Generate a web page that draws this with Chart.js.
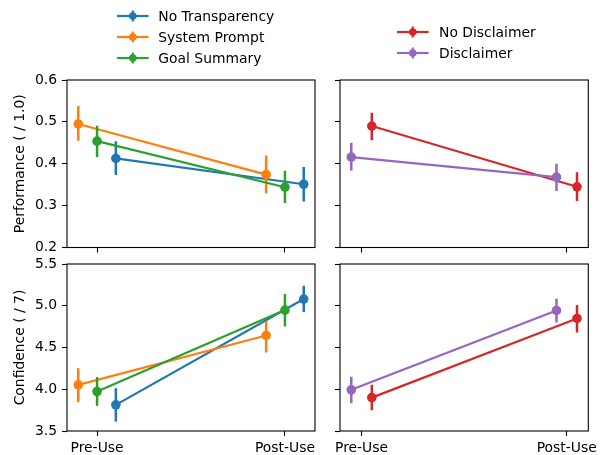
<!DOCTYPE html>
<html><head><meta charset="utf-8">
<script src="https://cdn.jsdelivr.net/npm/chart.js@4.4.1/dist/chart.umd.min.js"></script>
<style>
html,body{margin:0;padding:0;background:#fff;}
#wrap{position:relative;width:602px;height:455px;overflow:hidden;background:#fff;}
canvas{position:absolute;left:0;top:0;}
.leg{position:absolute;font-family:'DejaVu Sans';font-size:13.9px;color:#000;white-space:nowrap;height:18px;line-height:18px;}
.leg svg{position:absolute;top:2px;}
.leg span{position:absolute;top:0;}
</style></head><body>
<div id="wrap">
<canvas id="c1" width="602" height="455"></canvas>
<canvas id="c2" width="602" height="455"></canvas>
<canvas id="c3" width="602" height="455"></canvas>
<canvas id="c4" width="602" height="455"></canvas>
</div>
<script>
// ---------- data ----------
const categories = ['Pre-Use', 'Post-Use'];
const leftNames = ['No Transparency', 'System Prompt', 'Goal Summary'];
const rightNames = ['No Disclaimer', 'Disclaimer'];

const yTitles = ['Performance ( / 1.0)', 'Confidence ( / 7)'];
const perfTicks = [0.2, 0.3, 0.4, 0.5, 0.6];
const confTicks = [3.5, 4.0, 4.5, 5.0, 5.5];

// Performance
const perfNoTransparency   = [0.413, 0.351];
const perfNoTransparencyLo = [0.373, 0.310];
const perfNoTransparencyHi = [0.454, 0.392];
const perfSystemPrompt     = [0.495, 0.374];
const perfSystemPromptLo   = [0.455, 0.329];
const perfSystemPromptHi   = [0.538, 0.420];
const perfGoalSummary      = [0.454, 0.344];
const perfGoalSummaryLo    = [0.416, 0.306];
const perfGoalSummaryHi    = [0.491, 0.383];
const perfNoDisclaimer     = [0.490, 0.345];
const perfNoDisclaimerLo   = [0.456, 0.311];
const perfNoDisclaimerHi   = [0.522, 0.380];
const perfDisclaimer       = [0.416, 0.368];
const perfDisclaimerLo     = [0.384, 0.335];
const perfDisclaimerHi     = [0.450, 0.400];

// Confidence
const confNoTransparency   = [3.813, 5.080];
const confNoTransparencyLo = [3.613, 4.924];
const confNoTransparencyHi = [4.013, 5.240];
const confSystemPrompt     = [4.053, 4.644];
const confSystemPromptLo   = [3.845, 4.440];
const confSystemPromptHi   = [4.253, 4.820];
const confGoalSummary      = [3.973, 4.948];
const confGoalSummaryLo    = [3.801, 4.752];
const confGoalSummaryHi    = [4.145, 5.140];
const confNoDisclaimer     = [3.900, 4.848];
const confNoDisclaimerLo   = [3.750, 4.680];
const confNoDisclaimerHi   = [4.053, 5.008];
const confDisclaimer       = [3.993, 4.944];
const confDisclaimerLo     = [3.833, 4.800];
const confDisclaimerHi     = [4.149, 5.084];

// ---------- styles ----------
const W = 602, H = 455;
const FONT = {family: "'DejaVu Sans'", size: 13.9};
const C = {blue:'#1f77b4', orange:'#ff7f0e', green:'#2ca02c', red:'#d62728', purple:'#9467bd'};
const leftColors = [C.blue, C.orange, C.green];
const leftDodge = [0.1, -0.1, 0];
const rightColors = [C.red, C.purple];
const rightDodge = [0.05, -0.05];

Chart.defaults.font.family = FONT.family;
Chart.defaults.font.size = FONT.size;
Chart.defaults.color = '#000';

const boxPlugin = {
  id: 'box',
  afterDatasetsDraw(chart) {
    const {ctx, chartArea: a} = chart;
    ctx.save();
    ctx.strokeStyle = '#000';
    ctx.lineWidth = 1.1;
    ctx.strokeRect(a.left, a.top, a.right - a.left, a.bottom - a.top);
    ctx.restore();
  }
};

function panel(id, area, o) {
  const datasets = [];
  o.series.forEach((s, i) => {
    const ord = o.series.length - i;
    datasets.push({
      label: s.name,
      data: categories.map((c, k) => ({x: k + s.off, y: s.mean[k]})),
      showLine: true, borderColor: s.color, backgroundColor: s.color,
      borderWidth: 2.2, pointRadius: 4.8, pointHoverRadius: 4.8, pointBorderWidth: 0,
      order: ord
    });
    categories.forEach((c, k) => {
      datasets.push({
        data: [{x: k + s.off, y: s.lo[k]}, {x: k + s.off, y: s.hi[k]}],
        showLine: true, borderColor: s.color, backgroundColor: s.color,
        borderWidth: 2.5, pointRadius: 0, pointHoverRadius: 0, borderCapStyle: 'butt',
        order: ord
      });
    });
  });
  const xH = 24;
  const yW = o.showY ? area.left : 20;
  const grid = {display: true, drawOnChartArea: false, drawTicks: true, tickLength: 5, tickWidth: 1.1, tickColor: '#000'};
  new Chart(document.getElementById(id), {
    type: 'scatter',
    data: {datasets},
    plugins: [boxPlugin],
    options: {
      responsive: false, animation: false, events: [],
      layout: {padding: {left: area.left - yW, top: area.top, right: W - area.right, bottom: H - area.bottom - xH}},
      plugins: {legend: {display: false}, tooltip: {enabled: false}},
      scales: {
        x: {
          type: 'linear', min: o.xMin, max: o.xMax,
          afterBuildTicks: sc => { sc.ticks = categories.map((c, k) => ({value: k})); },
          ticks: {display: o.showX, callback: v => categories[v], padding: 4, color: '#000', font: FONT, maxRotation: 0},
          grid, border: {display: false},
          afterFit: sc => { sc.height = xH; }
        },
        y: {
          type: 'linear', min: o.yTicks[0], max: o.yTicks[o.yTicks.length - 1],
          afterBuildTicks: sc => { sc.ticks = o.yTicks.map(v => ({value: v})); },
          ticks: {display: o.showY, callback: v => Number(v).toFixed(1), padding: 5, color: '#000', font: FONT},
          grid, border: {display: false},
          title: {display: !!o.title, text: o.title || '', color: '#000', font: FONT, padding: {top: 11.7, bottom: 0}},
          afterFit: sc => { sc.width = yW; }
        }
      }
    }
  });
}

function leftSeries(means, los, his) {
  return leftNames.map((n, i) => ({name: n, color: leftColors[i], off: leftDodge[i], mean: means[i], lo: los[i], hi: his[i]}));
}
function rightSeries(means, los, his) {
  return rightNames.map((n, i) => ({name: n, color: rightColors[i], off: rightDodge[i], mean: means[i], lo: los[i], hi: his[i]}));
}

const LX = {left: 67, right: 315}, RX = {left: 340, right: 588.3};
const TY = {top: 80, bottom: 247.5}, BY = {top: 264, bottom: 431};

panel('c1', {...LX, ...TY}, {
  series: leftSeries([perfNoTransparency, perfSystemPrompt, perfGoalSummary],
                     [perfNoTransparencyLo, perfSystemPromptLo, perfGoalSummaryLo],
                     [perfNoTransparencyHi, perfSystemPromptHi, perfGoalSummaryHi]),
  xMin: -0.16, xMax: 1.16, yTicks: perfTicks, showX: false, showY: true, title: yTitles[0]
});
panel('c2', {...RX, ...TY}, {
  series: rightSeries([perfNoDisclaimer, perfDisclaimer],
                      [perfNoDisclaimerLo, perfDisclaimerLo],
                      [perfNoDisclaimerHi, perfDisclaimerHi]),
  xMin: -0.105, xMax: 1.105, yTicks: perfTicks, showX: false, showY: false
});
panel('c3', {...LX, ...BY}, {
  series: leftSeries([confNoTransparency, confSystemPrompt, confGoalSummary],
                     [confNoTransparencyLo, confSystemPromptLo, confGoalSummaryLo],
                     [confNoTransparencyHi, confSystemPromptHi, confGoalSummaryHi]),
  xMin: -0.16, xMax: 1.16, yTicks: confTicks, showX: true, showY: true, title: yTitles[1]
});
panel('c4', {...RX, ...BY}, {
  series: rightSeries([confNoDisclaimer, confDisclaimer],
                      [confNoDisclaimerLo, confDisclaimerLo],
                      [confNoDisclaimerHi, confDisclaimerHi]),
  xMin: -0.105, xMax: 1.105, yTicks: confTicks, showX: true, showY: false
});

// ---------- legends (HTML, real text) ----------
function legend(names, colors, x0, textX, yCenters) {
  const wrap = document.getElementById('wrap');
  names.forEach((n, i) => {
    const d = document.createElement('div');
    d.className = 'leg';
    d.style.left = x0 + 'px';
    d.style.top = (yCenters[i] - 9) + 'px';
    const c = colors[i];
    d.innerHTML = '<svg width="32" height="14" viewBox="0 0 32 14">' +
      '<line x1="0" y1="7" x2="31.6" y2="7" stroke="' + c + '" stroke-width="2.2"/>' +
      '<line x1="15.8" y1="1.5" x2="15.8" y2="12.5" stroke="' + c + '" stroke-width="2.2"/>' +
      '<circle cx="15.8" cy="7" r="3.8" fill="' + c + '"/></svg>' +
      '<span style="left:' + (textX - x0) + 'px">' + n + '</span>';
    wrap.appendChild(d);
  });
}
legend(leftNames, leftColors, 116.7, 158.3, [16, 36.7, 57.5]);
legend(rightNames, rightColors, 396.7, 439, [31.5, 52.5]);
</script>
</body></html>
